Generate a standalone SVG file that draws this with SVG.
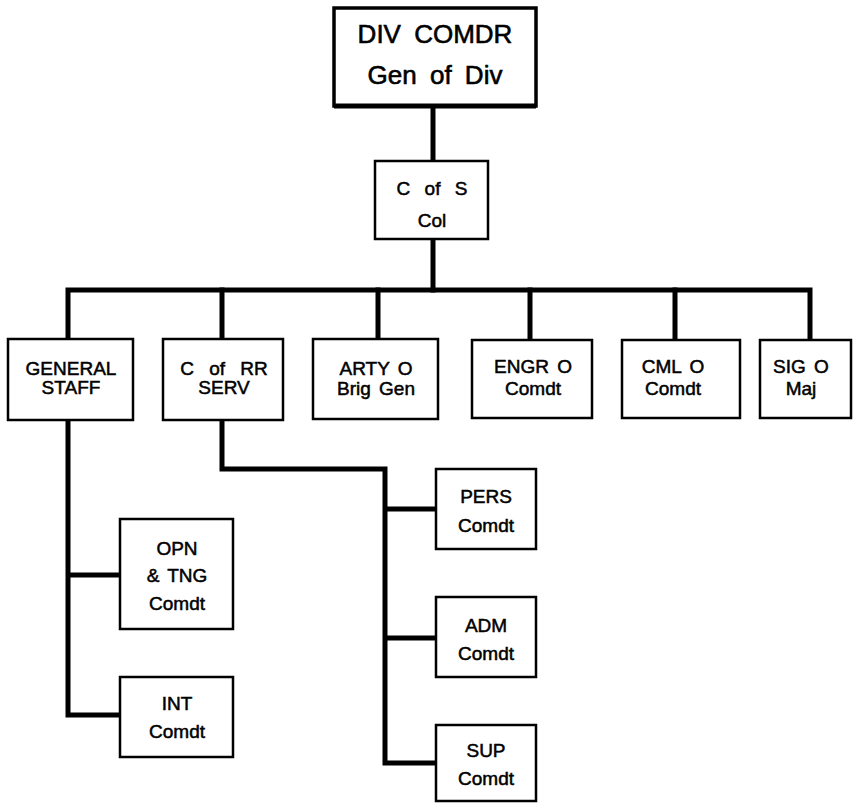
<svg xmlns="http://www.w3.org/2000/svg" width="853" height="805" viewBox="0 0 853 805">
<style>
.box{fill:#fff;stroke:#000;stroke-width:2.5}
.big{fill:#fff;stroke:#000;stroke-width:3.5}
.ln{fill:none;stroke:#000;stroke-width:5;stroke-linecap:square;stroke-linejoin:miter}
text{font-family:"Liberation Sans",Arial,sans-serif;font-size:19px;fill:#000;stroke:#000;stroke-width:0.5;text-anchor:middle;word-spacing:3px}
.t1{font-size:26px;word-spacing:6px;stroke-width:0.6}
</style>
<rect width="853" height="805" fill="#fff"/>
<g id="connectors">
<path class="ln" d="M433 107V161"/>
<path class="ln" d="M433 239V290"/>
<path class="ln" d="M68 338V290H810V340"/>
<path class="ln" d="M222 290V338M378 290V338M530 290V340M675 290V340"/>
<path class="ln" d="M68 420V715H120M68 575H120"/>
<path class="ln" d="M222 420V469H385V763H436M385 509H436M385 638H436"/>
</g>
<g id="div-comdr">
<rect class="big" x="334" y="8" width="202" height="98"/>
<line x1="334" y1="106" x2="536" y2="106" stroke="#000" stroke-width="5"/>
<text class="t1" x="435" y="43">DIV COMDR</text>
<text class="t1" x="435" y="84">Gen of Div</text>
</g>
<g id="c-of-s">
<rect class="box" x="375" y="161" width="113" height="78"/>
<text x="432" y="195" style="word-spacing:9px">C of S</text>
<text x="432" y="227">Col</text>
</g>
<g id="general-staff">
<rect class="box" x="8" y="339" width="125" height="81"/>
<text x="71" y="375">GENERAL</text>
<text x="71" y="394">STAFF</text>
</g>
<g id="c-of-rr-serv">
<rect class="box" x="163" y="339" width="120" height="81"/>
<text x="224" y="375" style="word-spacing:10px">C of RR</text>
<text x="224" y="394">SERV</text>
</g>
<g id="arty-o">
<rect class="box" x="313" y="339" width="125" height="80"/>
<text x="376" y="375">ARTY O</text>
<text x="376" y="395">Brig Gen</text>
</g>
<g id="engr-o">
<rect class="box" x="472" y="340" width="120" height="78"/>
<text x="533" y="373">ENGR O</text>
<text x="533" y="395">Comdt</text>
</g>
<g id="cml-o">
<rect class="box" x="622" y="340" width="118" height="78"/>
<text x="673" y="373">CML O</text>
<text x="673" y="395">Comdt</text>
</g>
<g id="sig-o">
<rect class="box" x="760" y="340" width="91" height="78"/>
<text x="801" y="373">SIG O</text>
<text x="801" y="395">Maj</text>
</g>
<g id="opn-tng">
<rect class="box" x="120" y="519" width="113" height="110"/>
<text x="177" y="555">OPN</text>
<text x="177" y="582">&amp; TNG</text>
<text x="177" y="610">Comdt</text>
</g>
<g id="int">
<rect class="box" x="120" y="677" width="113" height="80"/>
<text x="177" y="710">INT</text>
<text x="177" y="738">Comdt</text>
</g>
<g id="pers">
<rect class="box" x="436" y="469" width="100" height="80"/>
<text x="486" y="503">PERS</text>
<text x="486" y="532">Comdt</text>
</g>
<g id="adm">
<rect class="box" x="436" y="597" width="100" height="80"/>
<text x="486" y="632">ADM</text>
<text x="486" y="660">Comdt</text>
</g>
<g id="sup">
<rect class="box" x="436" y="725" width="100" height="76"/>
<text x="486" y="757">SUP</text>
<text x="486" y="785">Comdt</text>
</g>
</svg>
